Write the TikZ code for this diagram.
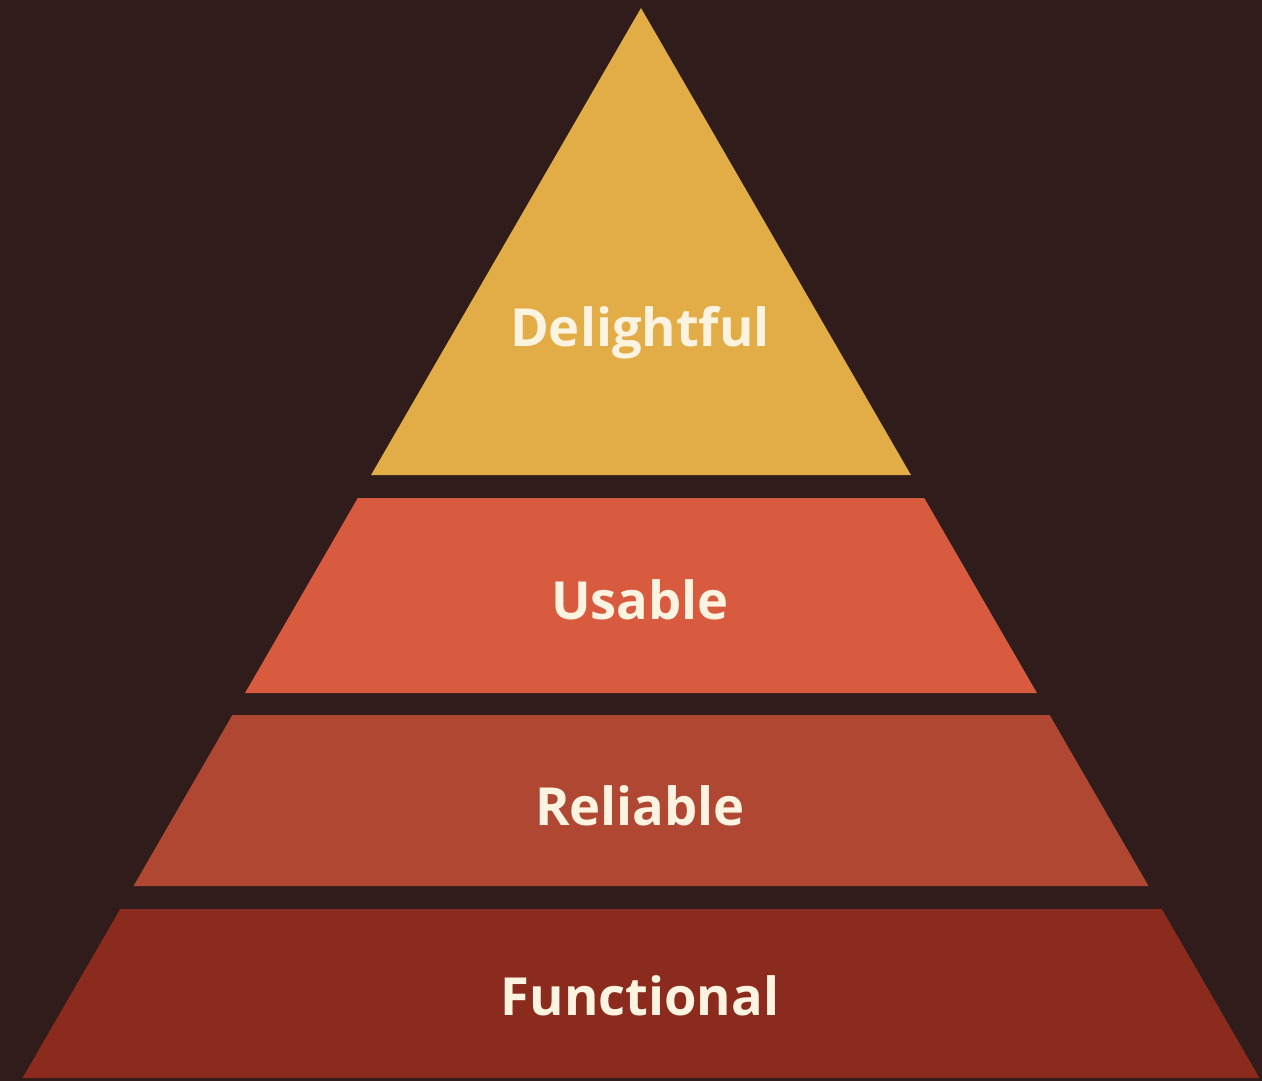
\documentclass[tikz,border=0pt]{standalone}
\usepackage{fontspec}
\setmainfont{Open Sans}
\definecolor{bgc}{RGB}{47,28,27}
\definecolor{c1}{RGB}{226,173,70}
\definecolor{c2}{RGB}{216,91,64}
\definecolor{c3}{RGB}{176,71,50}
\definecolor{c4}{RGB}{138,43,29}
\definecolor{txt}{RGB}{252,243,224}
\tikzset{lbl/.style={text=txt,font=\fontsize{52.5}{62}\selectfont\bfseries,inner sep=0pt}}
\begin{document}
\begin{tikzpicture}[x=1pt,y=-1pt]
\fill[bgc] (0,0) rectangle (1262,1081);
\useasboundingbox (0,0) rectangle (1262,1081);
% apex (641,8), half width = 0.578*(y-8)
\def\hw#1{0.578*(#1-8)}
\fill[c1] (641,8) -- ({641-\hw{475}},475) -- ({641+\hw{475}},475) -- cycle;
\fill[c2] ({641-\hw{498}},498) -- ({641+\hw{498}},498) -- ({641+\hw{693}},693) -- ({641-\hw{693}},693) -- cycle;
\fill[c3] ({641-\hw{715}},715) -- ({641+\hw{715}},715) -- ({641+\hw{886}},886) -- ({641-\hw{886}},886) -- cycle;
\fill[c4] ({641-\hw{909}},909) -- ({641+\hw{909}},909) -- ({641+\hw{1078}},1078) -- ({641-\hw{1078}},1078) -- cycle;
\node[lbl] (d) at (640,333) {Delightful};
\node[lbl] (u) at (640,600) {Usable};
\node[lbl] (r) at (640,806) {Reliable};
\node[lbl] (f) at (640,996) {Functional};
\end{tikzpicture}
\end{document}
